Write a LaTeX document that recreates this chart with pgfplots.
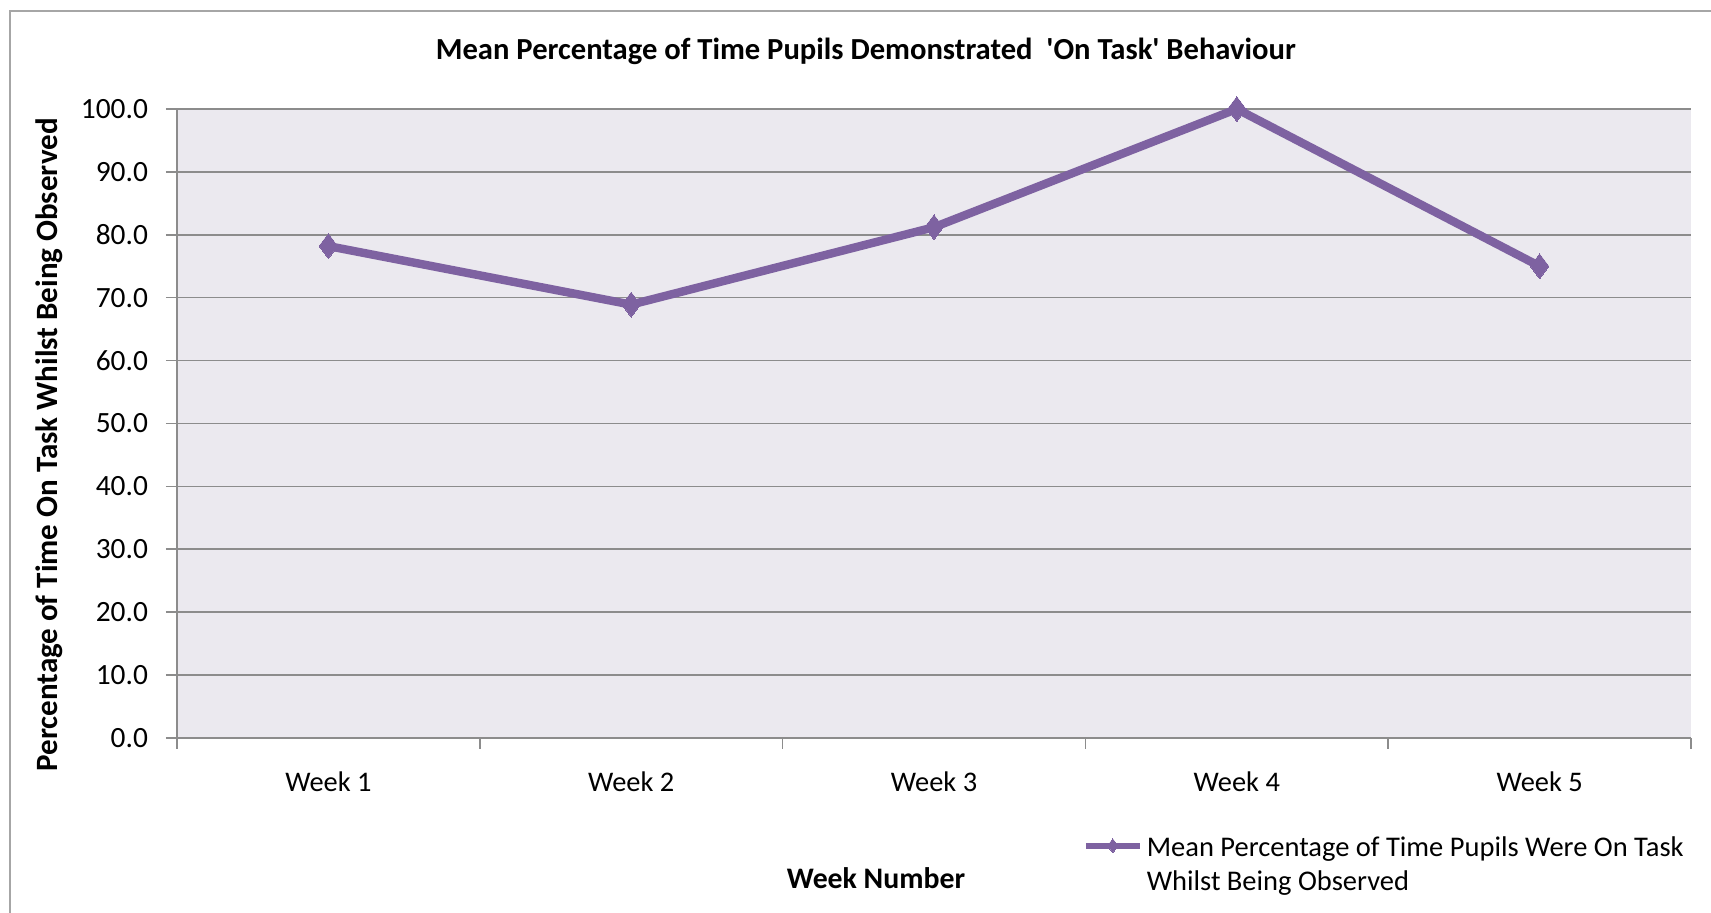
\documentclass[border=0pt]{standalone}
\usepackage{pgfplots}
\pgfplotsset{compat=1.18}
\usepackage{fontspec}
\setmainfont{Carlito}
\definecolor{bgc}{HTML}{EBE9EF}
\definecolor{gridc}{HTML}{8C8C8C}
\definecolor{linec}{HTML}{7E62A1}
\definecolor{framec}{HTML}{A6A6A6}
\begin{document}
\begin{tikzpicture}
\begin{axis}[
  name=ax,
  scale only axis,
  width=757pt, height=314.5pt,
  xmin=0.5, xmax=5.5, ymin=0, ymax=100,
  axis x line*=bottom, axis y line*=left,
  axis line style={gridc, line width=0.8pt},
  axis background/.style={fill=bgc},
  xtick={0.5,1.5,2.5,3.5,4.5,5.5},
  xticklabels={},
  extra x ticks={1,2,3,4,5},
  extra x tick labels={Week 1,Week 2,Week 3,Week 4,Week 5},
  extra x tick style={major tick length=0pt, xticklabel style={yshift=-13.5pt}},
  ytick={0,10,...,100},
  ymajorgrids,
  grid style={gridc, line width=0.8pt},
  tick style={gridc, line width=0.8pt},
  tick align=outside,
  major tick length=5.5pt,
  /pgf/number format/assume math mode=true,
  yticklabel style={xshift=-5.5pt, font=\fontsize{14.7}{16}\selectfont, /pgf/number format/.cd, fixed, fixed zerofill, precision=1},
  xticklabel style={font=\fontsize{14.2}{16}\selectfont},
  every axis y label/.style={at={(axis description cs:-0.0845,0.466)}, rotate=90, anchor=center, font=\bfseries\fontsize{15.5}{17}\selectfont},
  ylabel={Percentage of Time On Task Whilst Being Observed},
  every axis x label/.style={at={(axis description cs:0.4617,-0.2226)}, anchor=center, font=\bfseries\fontsize{14.9}{17}\selectfont},
  xlabel={Week Number},
  legend style={at={(axis description cs:0.598,-0.143)}, anchor=north west, draw=none, fill=none, inner sep=0pt,
    font=\fontsize{14.25}{17}\selectfont, cells={anchor=west}},
  legend image code/.code={\draw[mark repeat=2,mark phase=2,#1, line width=3pt, mark size=3.5pt] plot coordinates {(0pt,0pt) (13.5pt,0pt) (27pt,0pt)};},
]
\addplot[color=linec, line width=4.2pt, mark=diamond*, mark size=6.2pt, mark options={solid, fill=linec, line width=0pt}]
  coordinates {(1,78.2) (2,68.9) (3,81.2) (4,100.0) (5,75.0)};
\addlegendentry{\begin{tabular}[t]{@{}l@{}}Mean Percentage of Time Pupils Were On Task\\Whilst Being Observed\end{tabular}}
\end{axis}
\path (ax.north west) -- (ax.north east) node[pos=0.455, yshift=28.8pt, font=\bfseries\fontsize{15.3}{17}\selectfont, anchor=center] {Mean Percentage of Time Pupils Demonstrated~~\textquotesingle On Task\textquotesingle\ Behaviour};
\draw[framec, line width=1pt] (-83.5pt,-95pt) -- (-83.5pt,363.5pt) -- (780pt,363.5pt);
\pgfresetboundingbox
\path (-88.5pt,-87.5pt) rectangle (767pt,369pt);
\end{tikzpicture}
\end{document}
